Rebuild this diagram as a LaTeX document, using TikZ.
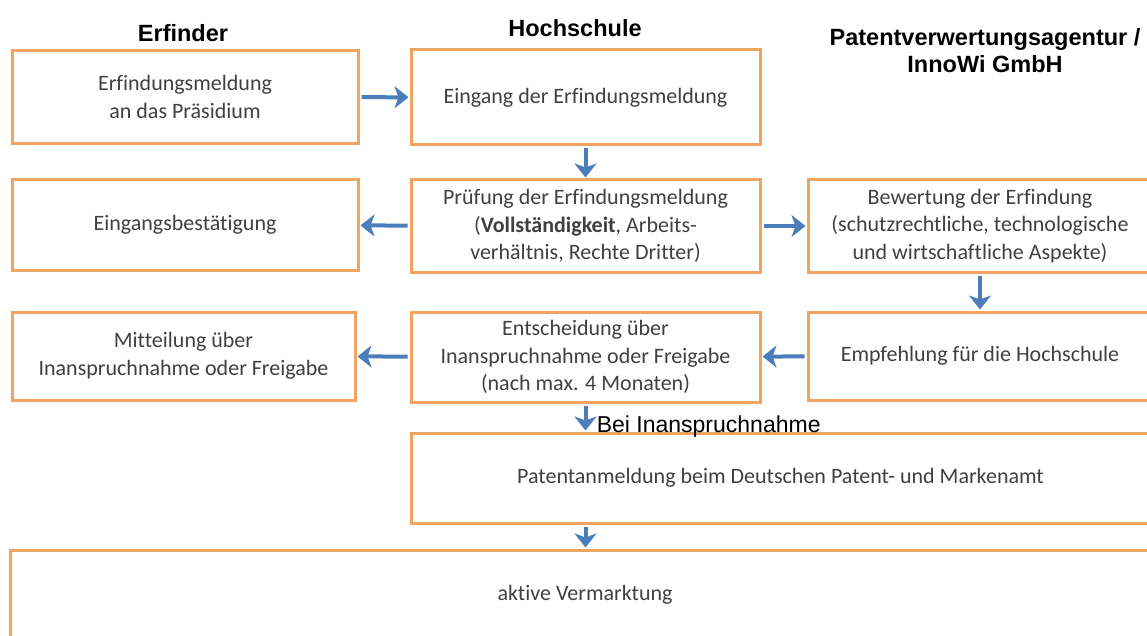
\documentclass[tikz,border=0pt]{standalone}
\usepackage{fontspec}
\setmainfont[Ligatures=NoCommon]{Carlito}
\newfontfamily\headfont{Liberation Sans}
\usetikzlibrary{arrows.meta}

\definecolor{boxorange}{HTML}{F0A462}
\definecolor{arrowblue}{HTML}{4A7DBA}
\definecolor{textgray}{HTML}{404040}

\tikzset{
  box/.style={draw=boxorange, line width=3pt, fill=white, align=center, text=textgray,
    font=\fontsize{22}{27.5}\selectfont, inner sep=0pt},
  head/.style={font=\headfont\bfseries\fontsize{23.5}{27}\selectfont, align=center},
  flow/.style={-{Stealth[length=14pt,width=22pt,inset=4pt]}, draw=arrowblue, line width=4pt,
    shorten <=2pt, shorten >=1pt}
}

\begin{document}
\begin{tikzpicture}[x=1pt,y=-1pt]
\useasboundingbox (0,0) rectangle (1147,636);
\clip (0,0) rectangle (1147,636);

\node[head] (T1) at (183,33)  {Erfinder};
\node[head] (T2) at (575,28)  {Hochschule};
\node[head] (T3) at (985,51)  {Patentverwertungsagentur /\\InnoWi GmbH};

\node[box, minimum width=346pt, minimum height=93pt] (E1) at (185,97)    {Erfindungsmeldung\\an das Präsidium};
\node[box, minimum width=349pt, minimum height=95pt] (H1) at (585.5,97.5) {Eingang der Erfindungsmeldung};
\node[box, minimum width=346pt, minimum height=90pt] (E2) at (185,225)   {Eingangsbestätigung};
\node[box, minimum width=349pt, minimum height=92pt] (H2) at (585.5,226) {Prüfung der Erfindungsmeldung\\(\textbf{Vollständigkeit}, Arbeits-\\verhältnis, Rechte Dritter)};
\node[box, minimum width=344pt, minimum height=92pt] (P2) at (980,226)   {Bewertung der Erfindung\\(schutzrechtliche, technologische\\und wirtschaftliche Aspekte)};
\node[box, minimum width=343pt, minimum height=88pt] (E3) at (183.5,356) {Mitteilung über\\Inanspruchnahme oder Freigabe};
\node[box, minimum width=349pt, minimum height=90pt] (H3) at (585.5,357) {Entscheidung über\\Inanspruchnahme oder Freigabe\\(nach max. 4 Monaten)};
\node[box, minimum width=344pt, minimum height=88pt] (P3) at (980,356)   {Empfehlung für die Hochschule};
\node[box, minimum width=739pt, minimum height=90pt] (H4) at (780.5,478) {Patentanmeldung beim Deutschen Patent- und Markenamt};
\node[box, minimum width=1150pt, minimum height=90pt] (H5) at (585,595)  {aktive Vermarktung};

\draw[flow] (E1) -- (H1);
\draw[flow] (H1) -- (H2);
\draw[flow] (H2) -- (E2);
\draw[flow] (H2) -- (P2);
\draw[flow] (P2) -- (P3);
\draw[flow] (P3) -- (H3);
\draw[flow] (H3) -- (E3);
\draw[flow] (H3.south) -- (H3.south |- H4.north)
  node[midway, right=6pt, yshift=-9pt, font=\headfont\fontsize{23}{27}\selectfont]{Bei Inanspruchnahme};
\draw[flow] (H3.south |- H4.south) -- (H3.south |- H5.north);
\end{tikzpicture}
\end{document}
